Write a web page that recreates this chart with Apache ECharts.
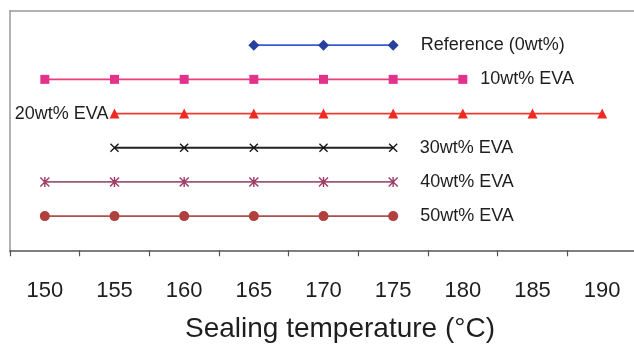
<!DOCTYPE html>
<html>
<head>
<meta charset="utf-8">
<script src="https://cdn.jsdelivr.net/npm/echarts@6/dist/echarts.min.js"></script>
<style>
  html, body { margin: 0; padding: 0; background: #fff; }
  #chart { width: 634px; height: 347px; }
</style>
</head>
<body>
<div id="chart"></div>
<script>
// sealing temperatures on the x axis
const temps = ['150', '155', '160', '165', '170', '175', '180', '185', '190'];

// temperatures covered by each sample
const refTemps = ['165', '170', '175'];
const eva10Temps = ['150', '155', '160', '165', '170', '175', '180'];
const eva20Temps = ['155', '160', '165', '170', '175', '180', '185', '190'];
const eva30Temps = ['155', '160', '165', '170', '175'];
const eva40Temps = ['150', '155', '160', '165', '170', '175'];
const eva50Temps = ['150', '155', '160', '165', '170', '175'];

// row of each sample (top to bottom)
const rows = [6, 5, 4, 3, 2, 1];
const names = ['Reference (0wt%)', '10wt% EVA', '20wt% EVA', '30wt% EVA', '40wt% EVA', '50wt% EVA'];

const crossPath = 'path://M0,1L1,0L5,4L9,0L10,1L6,5L10,9L9,10L5,6L1,10L0,9L4,5Z';
const starPath = 'path://M0,1L1,0L5,4L9,0L10,1L6,5L10,9L9,10L5,6L1,10L0,9L4,5Z M4.3,0L5.7,0L5.7,10L4.3,10Z';

const looks = [
  { temps: refTemps, color: '#3a5bd0', mark: '#27409e', symbol: 'diamond', size: 11, at: 'last', pos: 'right', dist: 22 },
  { temps: eva10Temps, color: '#ea3d7c', mark: '#e2328c', symbol: 'rect', size: 9, at: 'last', pos: 'right', dist: 13 },
  { temps: eva20Temps, color: '#f03a2e', mark: '#f02a22', symbol: 'triangle', size: 10, at: 'first', pos: 'left', dist: 1 },
  { temps: eva30Temps, color: '#222222', mark: '#111111', symbol: crossPath, size: 9, at: 'last', pos: 'right', dist: 22 },
  { temps: eva40Temps, color: '#9a5a72', mark: '#a03a6a', symbol: starPath, size: 10, at: 'last', pos: 'right', dist: 22 },
  { temps: eva50Temps, color: '#b0504c', mark: '#b0403e', symbol: 'circle', size: 10, at: 'last', pos: 'right', dist: 22 }
];

const font = 'Liberation Sans, Arial, sans-serif';

const series = looks.map((s, k) => {
  const last = s.temps.length - 1;
  return {
    name: names[k],
    type: 'line',
    symbol: s.symbol,
    symbolSize: s.size,
    lineStyle: { color: s.color, width: 1.8 },
    itemStyle: { color: s.mark },
    data: s.temps.map((t, i) => {
      const item = { value: [t, rows[k]] };
      if ((s.at === 'last' && i === last) || (s.at === 'first' && i === 0)) {
        item.label = {
          show: true,
          position: s.pos,
          distance: s.dist,
          formatter: names[k],
          color: '#1e1e1e',
          fontSize: 18,
          fontFamily: font
        };
      }
      return item;
    })
  };
});

const chart = echarts.init(document.getElementById('chart'));
chart.setOption({
  backgroundColor: '#fff',
  animation: false,
  grid: { left: 10, top: 11, width: 627, bottom: 95, show: false, outerBoundsMode: 'none', containLabel: false },
  xAxis: [{
    type: 'category',
    data: temps,
    boundaryGap: true,
    name: 'Sealing temperature (°C)',
    nameLocation: 'middle',
    nameGap: 63,
    nameTextStyle: { fontSize: 28, color: '#1e1e1e', fontFamily: font, padding: [0, 0, 0, 33] },
    axisLine: { show: true, lineStyle: { color: '#555', width: 1.5 } },
    axisTick: { show: true, alignWithLabel: false, interval: 0, length: 6, lineStyle: { color: '#555', width: 1.2 } },
    axisLabel: { fontSize: 22, color: '#1e1e1e', margin: 28, fontFamily: font },
    splitLine: { show: false }
  }, {
    // top frame line
    type: 'category',
    data: temps,
    position: 'top',
    axisLine: { show: true, lineStyle: { color: '#999', width: 1.5 } },
    axisTick: { show: false },
    axisLabel: { show: false }
  }],
  yAxis: {
    type: 'value',
    min: -0.05,
    max: 7,
    axisLine: { show: true, lineStyle: { color: '#999', width: 1.5 } },
    axisTick: { show: false },
    axisLabel: { show: false },
    splitLine: { show: false }
  },
  series: series
});
</script>
</body>
</html>
